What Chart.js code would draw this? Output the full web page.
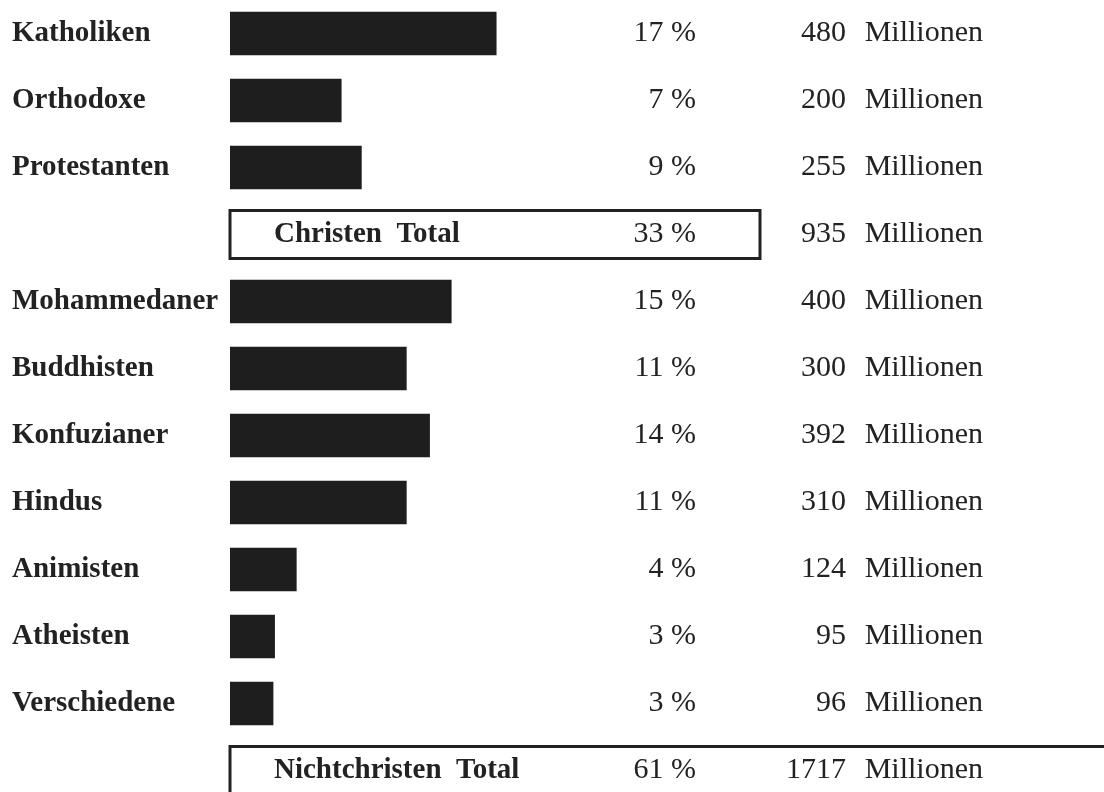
<!DOCTYPE html>
<html>
<head>
<meta charset="utf-8">
<script src="https://cdn.jsdelivr.net/npm/chart.js@4.4.1/dist/chart.umd.min.js"></script>
<style>
  html, body { margin: 0; padding: 0; background: #fff; overflow: hidden; }
  #wrap { width: 1104px; height: 804px; }
</style>
</head>
<body>
<div id="wrap"><canvas id="c" width="1104" height="804"></canvas></div>
<script>
// ---- data ----
const categories = ['Katholiken', 'Orthodoxe', 'Protestanten', 'Christen Total',
  'Mohammedaner', 'Buddhisten', 'Konfuzianer', 'Hindus', 'Animisten',
  'Atheisten', 'Verschiedene', 'Nichtchristen Total'];
const isTotal = [false, false, false, true, false, false, false, false, false, false, false, true];
// bar lengths as drawn, in percent units (total rows have no bar)
const barLength = [17.2, 7.2, 8.5, null, 14.3, 11.4, 12.9, 11.4, 4.3, 2.9, 2.8, null];
const percentLabels = [17, 7, 9, 33, 15, 11, 14, 11, 4, 3, 3, 61];
const millions = [480, 200, 255, 935, 400, 300, 392, 310, 124, 95, 96, 1717];
const unitLabel = 'Millionen';

const INK = '#222222';
const SERIF = '"Liberation Serif", "Times New Roman", serif';

const tablePlugin = {
  id: 'tableText',
  afterDatasetsDraw(chart) {
    const ctx = chart.ctx;
    const y = chart.scales.y;
    const x = chart.scales.x;
    ctx.save();
    ctx.fillStyle = INK;
    ctx.strokeStyle = INK;
    ctx.textBaseline = 'middle';
    categories.forEach((cat, i) => {
      const py = y.getPixelForValue(i);
      ctx.font = '30px ' + SERIF;
      ctx.textAlign = 'right';
      ctx.fillText(percentLabels[i] + ' %', 696, py);
      ctx.fillText(String(millions[i]), 846, py);
      ctx.fillText(unitLabel, 983, py);
      if (isTotal[i]) {
        ctx.font = 'bold 29px ' + SERIF;
        ctx.textAlign = 'left';
        ctx.fillText(cat.replace(' ', '  '), 274, py);
        ctx.lineWidth = 3;
        const left = x.getPixelForValue(0);
        const right = (i === 3) ? 760 : chart.width + 10;
        ctx.strokeRect(left, py - 24, right - left, 48);
      }
    });
    ctx.restore();
  }
};

new Chart(document.getElementById('c'), {
  type: 'bar',
  data: {
    labels: categories,
    datasets: [{
      data: barLength,
      backgroundColor: '#1e1e1e',
      borderWidth: 0,
      barPercentage: 0.65,
      categoryPercentage: 1.0
    }]
  },
  options: {
    indexAxis: 'y',
    responsive: false,
    animation: false,
    devicePixelRatio: 1,
    layout: { padding: { left: 12, right: 0, top: 0, bottom: 0 } },
    plugins: { legend: { display: false }, tooltip: { enabled: false }, title: { display: false } },
    scales: {
      x: { display: false, min: 0, max: 56.4 },
      y: {
        grid: { display: false },
        border: { display: false },
        afterFit: (s) => { s.width = 218; s.paddingTop = 0; s.paddingBottom = 0; },
        ticks: {
          autoSkip: false,
          crossAlign: 'far',
          padding: 0,
          color: INK,
          font: { family: SERIF, size: 29, weight: 'bold' },
          callback: (v, i) => isTotal[i] ? '' : categories[i]
        }
      }
    }
  },
  plugins: [tablePlugin]
});
</script>
</body>
</html>
